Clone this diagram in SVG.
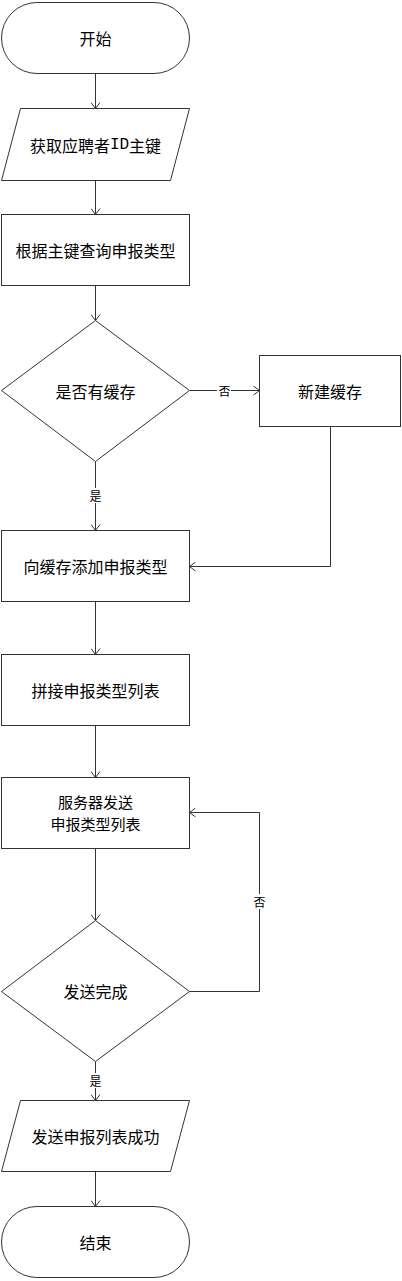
<svg xmlns="http://www.w3.org/2000/svg" width="402" height="1281" viewBox="0 0 402 1281">
<style>
.s{fill:#fff;stroke:#333;stroke-width:1}
.t{font-family:"Noto Sans CJK SC","Noto Sans CJK JP",sans-serif;font-size:16px;fill:#000;text-anchor:middle;dominant-baseline:central}
.l{font-family:"Noto Sans CJK SC","Noto Sans CJK JP",sans-serif;font-size:12px;fill:#000;text-anchor:middle;dominant-baseline:central}
.c{fill:none;stroke:#333;stroke-width:1}
.lb{fill:#fff;stroke:none}
</style>
<defs>
<marker id="a" viewBox="0 0 10 10" refX="10" refY="5" markerWidth="10" markerHeight="10" markerUnits="userSpaceOnUse" orient="auto">
<path d="M4,0.5 L10,5 L4,9.5" fill="none" stroke="#333" stroke-width="1"/>
</marker>
</defs>
<rect width="402" height="1281" fill="#fff"/>
<g id="connectors">
<path class="c" d="M95.5,73.5 V108.5" marker-end="url(#a)"/>
<path class="c" d="M95.5,180.5 V214.5" marker-end="url(#a)"/>
<path class="c" d="M95.5,285.5 V320.5" marker-end="url(#a)"/>
<path class="c" d="M189.5,390.5 H259.5" marker-end="url(#a)"/>
<path class="c" d="M330.5,426.5 V566.5 H189.5" marker-end="url(#a)"/>
<path class="c" d="M95.5,461.5 V530.5" marker-end="url(#a)"/>
<path class="c" d="M95.5,601.5 V654.5" marker-end="url(#a)"/>
<path class="c" d="M95.5,725.5 V777.5" marker-end="url(#a)"/>
<path class="c" d="M95.5,848.5 V920.5" marker-end="url(#a)"/>
<path class="c" d="M189.5,991.5 H259.5 V812.5 H189.5" marker-end="url(#a)"/>
<path class="c" d="M95.5,1061.5 V1100.5" marker-end="url(#a)"/>
<path class="c" d="M95.5,1171.5 V1206.5" marker-end="url(#a)"/>
<rect class="lb" x="217" y="383" width="14" height="15"/>
<text class="l" x="224.5" y="390.5">否</text>
<rect class="lb" x="88" y="488" width="15" height="15"/>
<text class="l" x="95.5" y="495.5">是</text>
<rect class="lb" x="252" y="894" width="15" height="15"/>
<text class="l" x="259.5" y="901.5">否</text>
<rect class="lb" x="88" y="1073" width="15" height="15"/>
<text class="l" x="95.5" y="1080.5">是</text>
</g>
<g id="start">
<rect class="s" x="1.5" y="2.5" width="188" height="71" rx="35.5" ry="35.5"/>
<text class="t" x="95.5" y="38">开始</text>
</g>
<g id="getId">
<polygon class="s" points="20.5,108.5 189.5,108.5 170.5,180.5 1.5,180.5"/>
<text class="t" x="95.5" y="144.5">获取应聘者<tspan font-family="'Liberation Mono',monospace">ID</tspan>主键</text>
</g>
<g id="query">
<rect class="s" x="1.5" y="214.5" width="188" height="71"/>
<text class="t" x="95.5" y="250">根据主键查询申报类型</text>
</g>
<g id="hasCache">
<polygon class="s" points="95.5,320.5 189.5,390.5 95.5,461.5 1.5,390.5"/>
<text class="t" x="95.5" y="390.5">是否有缓存</text>
</g>
<g id="newCache">
<rect class="s" x="259.5" y="355.5" width="141" height="71"/>
<text class="t" x="330" y="391">新建缓存</text>
</g>
<g id="addCache">
<rect class="s" x="1.5" y="530.5" width="188" height="71"/>
<text class="t" x="95.5" y="566">向缓存添加申报类型</text>
</g>
<g id="joinList">
<rect class="s" x="1.5" y="654.5" width="188" height="71"/>
<text class="t" x="95.5" y="690">拼接申报类型列表</text>
</g>
<g id="send">
<rect class="s" x="1.5" y="777.5" width="188" height="71"/>
<text class="t" style="font-size:15px" x="95.5" y="801"><tspan x="95.5" y="801">服务器发送</tspan><tspan x="95.5" y="823">申报类型列表</tspan></text>
</g>
<g id="sendDone">
<polygon class="s" points="95.5,920.5 189.5,991.5 95.5,1061.5 1.5,991.5"/>
<text class="t" x="95.5" y="991">发送完成</text>
</g>
<g id="success">
<polygon class="s" points="20.5,1100.5 189.5,1100.5 170.5,1171.5 1.5,1171.5"/>
<text class="t" x="95.5" y="1136">发送申报列表成功</text>
</g>
<g id="end">
<rect class="s" x="1.5" y="1206.5" width="188" height="71" rx="35.5" ry="35.5"/>
<text class="t" x="95.5" y="1242">结束</text>
</g>
</svg>
